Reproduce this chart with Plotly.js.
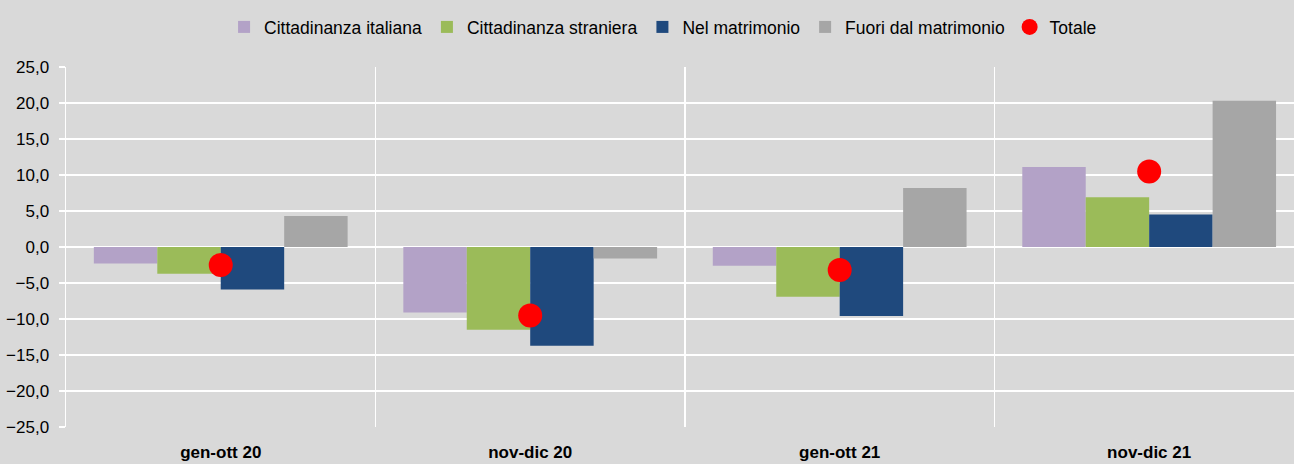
<!DOCTYPE html>
<html>
<head>
<meta charset="utf-8">
<script src="https://cdn.plot.ly/plotly-3.0.1.min.js"></script>
<style>html,body{margin:0;padding:0;background:#d9d9d9;}#chart{width:1294px;height:464px;}</style>
</head>
<body>
<div id="chart"></div>
<script>
const categories = ["gen-ott 20", "nov-dic 20", "gen-ott 21", "nov-dic 21"];
const cittadinanzaItaliana = [-2.3, -9.1, -2.6, 11.1];
const cittadinanzaStraniera = [-3.7, -11.5, -6.9, 6.9];
const nelMatrimonio = [-5.9, -13.7, -9.6, 4.5];
const fuoriDalMatrimonio = [4.3, -1.6, 8.2, 20.3];
const totale = [-2.5, -9.5, -3.2, 10.5];

const seriesNames = ["Cittadinanza italiana", "Cittadinanza straniera", "Nel matrimonio", "Fuori dal matrimonio", "Totale"];
const colors = ["#b3a2c7", "#9bbb59", "#1f497d", "#a6a6a6", "#ff0000"];
const barSeries = [cittadinanzaItaliana, cittadinanzaStraniera, nelMatrimonio, fuoriDalMatrimonio];

const font = "Liberation Sans, Arial, sans-serif";

const traces = barSeries.map((vals, i) => ({
  type: "bar",
  name: seriesNames[i],
  x: categories,
  y: vals,
  marker: {color: colors[i], line: {width: 0}},
  hoverinfo: "skip"
}));
traces.push({
  type: "scatter",
  mode: "markers",
  name: seriesNames[4],
  x: categories,
  y: totale,
  marker: {color: colors[4], size: 24},
  hoverinfo: "skip"
});

const layout = {
  width: 1294,
  height: 464,
  margin: {l: 66, r: 0, t: 67, b: 37, pad: 0},
  paper_bgcolor: "#d9d9d9",
  plot_bgcolor: "#d9d9d9",
  separators: ", ",
  font: {family: font, size: 17, color: "#000000"},
  barmode: "group",
  bargap: 0.18,
  bargroupgap: 0,
  showlegend: true,
  legend: {
    orientation: "h",
    x: 0.4862,
    xanchor: "center",
    y: 1.111,
    yanchor: "middle",
    bgcolor: "rgba(0,0,0,0)",
    font: {family: font, size: 17.5, color: "#000000"},
    traceorder: "normal"
  },
  xaxis: {
    type: "category",
    range: [-0.5, 3.468],
    tickson: "boundaries",
    showgrid: true,
    gridcolor: "#ffffff",
    gridwidth: 1.5,
    ticks: "",
    showline: false,
    zeroline: false,
    tickfont: {family: font, size: 17, color: "#000000", weight: "bold"},
    ticklabelstandoff: 13
  },
  yaxis: {
    range: [-25, 25],
    dtick: 5,
    tick0: 0,
    tickformat: ".1f",
    showgrid: true,
    gridcolor: "#ffffff",
    gridwidth: 1.5,
    zeroline: true,
    zerolinecolor: "#ffffff",
    zerolinewidth: 1.5,
    showline: true,
    linecolor: "#ffffff",
    linewidth: 1.5,
    ticks: "outside",
    tickcolor: "#ffffff",
    ticklen: 6,
    tickwidth: 1.5,
    tickfont: {family: font, size: 17, color: "#000000"},
    ticklabelstandoff: 6
  }
};

Plotly.newPlot("chart", traces, layout, {displayModeBar: false, staticPlot: true});
</script>
</body>
</html>
